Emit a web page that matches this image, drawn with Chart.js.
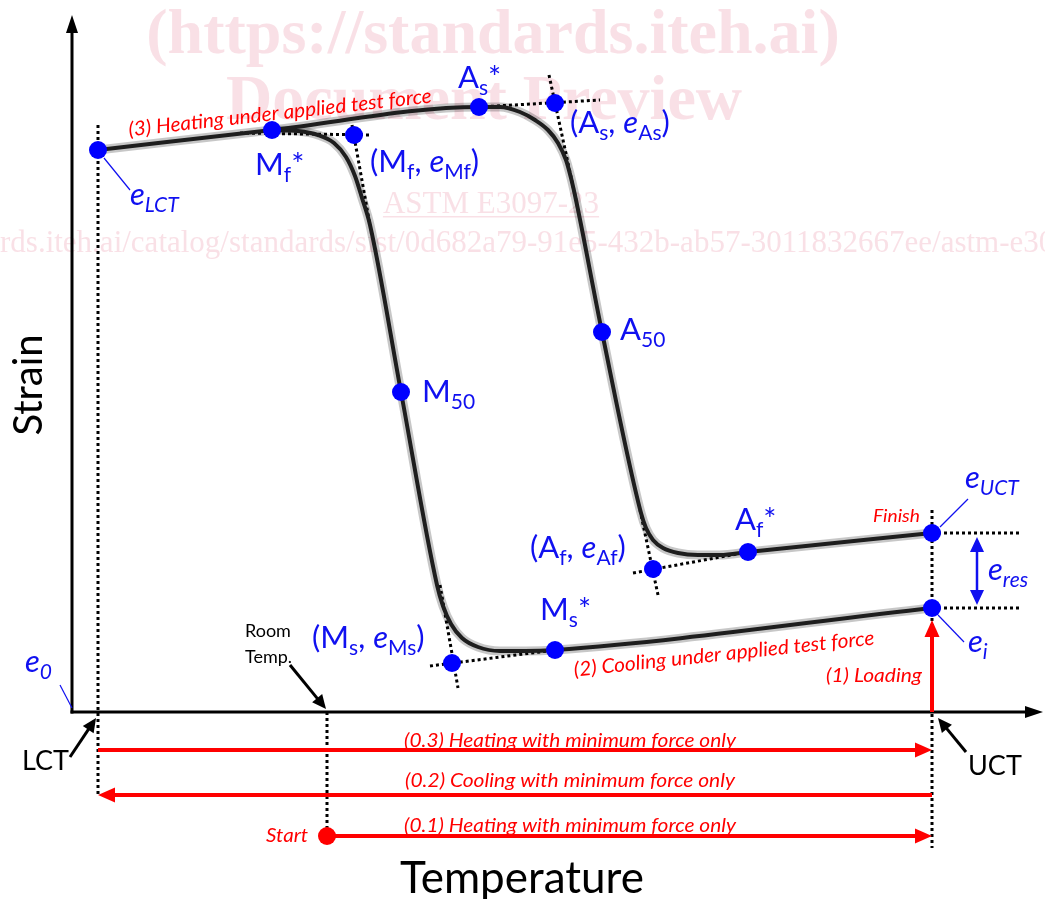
<!DOCTYPE html>
<html>
<head>
<meta charset="utf-8">
<script src="https://cdn.jsdelivr.net/npm/chart.js@4.4.0/dist/chart.umd.min.js"></script>
<style>
    html, body { margin: 0; padding: 0; background: #fff; overflow: hidden; }
    canvas { display: block; }
</style>
</head>
<body>
<canvas id="chart" width="1045" height="899"></canvas>
<script>
// Axis extents (arbitrary temperature / strain units)
const xMax = 971;
const yMax = 697;

// Heating under applied test force (LCT -> UCT)
const heatingX = [26, 200, 407, 428, 448, 463, 476, 486, 494, 499, 504, 530, 569, 574, 581, 591, 606, 626, 648, 676, 860];
const heatingY = [562, 582, 605, 605, 600, 592, 582, 569, 552, 534, 512, 380, 199, 184, 172, 164, 159, 157, 157, 160, 179];

// Cooling under applied test force (UCT -> LCT), listed by temperature
const coolingX = [200, 226, 246, 262, 274, 283, 290, 298, 329, 365, 371, 379, 390, 406, 428, 453, 483, 860];
const coolingY = [582, 581, 577, 569, 555, 536, 514, 487, 320, 127, 106, 88, 74, 65, 61, 61, 62, 104];

// Characteristic points
const pointNames = ['eLCT', 'Mf*', 'Mf', 'As*', 'As', 'A50', 'M50', 'Af', 'Af*', 'eUCT', 'ei', 'Ms', 'Ms*'];
const pointX = [26, 200, 282, 407, 483, 530, 329, 581, 676, 860, 860, 380, 483];
const pointY = [562, 582, 577, 605, 609, 380, 320, 143, 160, 179, 104, 49, 62];

// Start point (room temperature, minimum force)
const startX = [255];
const startY = [-124];

// Tangent / guide lines [x1, y1, x2, y2]
const guideLines = [
    [407, 605, 528, 612],
    [168, 579, 300, 577],
    [280, 587, 298, 487],
    [477, 637, 504, 512],
    [568, 202, 586, 117],
    [561, 139, 676, 160],
    [368, 127, 386, 24],
    [358, 46, 483, 62],
    [26, 587, 26, -83],
    [860, 202, 860, -136],
    [255, 0, 255, -124],
    [860, 179, 948, 179],
    [860, 104, 948, 104]
];

// Process arrows [x1, y1, x2, y2] (head at the end)
const redArrows = [
    [860, 0, 860, 92],
    [26, -38, 860, -38],
    [860, -83, 26, -83],
    [255, -124, 860, -124]
];
const blackArrows = [
    [-2, -45, 24, -6],
    [894, -40, 866, -6],
    [218, 47, 254, 3]
];
const leaderLines = [
    [32, 554, 58, 522],
    [-12, 27, 0, 4],
    [868, 185, 896, 213],
    [866, 97, 892, 70]
];
const eresArrow = [905, 175, 905, 107];

const FONT = 'Lato, "Open Sans", sans-serif';
const BLUE = '#1010f0';
const RED = '#ff0000';

function toXY(xs, ys) {
    return xs.map((x, i) => ({ x: x, y: ys[i] }));
}

// Labels (position in data units)
const blueLabels = [
    { x: 183, y: 537, parts: [{ t: 'M' }, { t: 'f', sub: true }, { t: '*' }] },
    { x: 298, y: 540, parts: [{ t: '(M' }, { t: 'f', sub: true }, { t: ', ' }, { t: 'e', it: true }, { t: 'Mf', sub: true }, { t: ')' }] },
    { x: 386, y: 624, parts: [{ t: 'A' }, { t: 's', sub: true }, { t: '*' }] },
    { x: 498, y: 579, parts: [{ t: '(A' }, { t: 's', sub: true }, { t: ', ' }, { t: 'e', it: true }, { t: 'As', sub: true }, { t: ')' }] },
    { x: 548, y: 372, parts: [{ t: 'A' }, { t: '50', sub: true }] },
    { x: 350, y: 310, parts: [{ t: 'M' }, { t: '50', sub: true }] },
    { x: 458, y: 154, parts: [{ t: '(A' }, { t: 'f', sub: true }, { t: ', ' }, { t: 'e', it: true }, { t: 'Af', sub: true }, { t: ')' }] },
    { x: 663, y: 182, parts: [{ t: 'A' }, { t: 'f', sub: true }, { t: '*' }] },
    { x: 240, y: 64, parts: [{ t: '(M' }, { t: 's', sub: true }, { t: ', ' }, { t: 'e', it: true }, { t: 'Ms', sub: true }, { t: ')' }] },
    { x: 468, y: 92, parts: [{ t: 'M' }, { t: 's', sub: true }, { t: '*' }] },
    { x: 58, y: 507, parts: [{ t: 'e', it: true }, { t: 'LCT', sub: true, it: true }] },
    { x: 893, y: 224, parts: [{ t: 'e', it: true }, { t: 'UCT', sub: true, it: true }] },
    { x: 916, y: 132, parts: [{ t: 'e', it: true }, { t: 'res', sub: true, it: true }] },
    { x: 896, y: 60, parts: [{ t: 'e', it: true }, { t: 'i', sub: true, it: true }] },
    { x: -47, y: 40, parts: [{ t: 'e', it: true }, { t: '0', sub: true, it: true }] }
];

// w = width the text should span in px
const redLabels = [
    { x: 208, y: 599, text: '(3) Heating under applied test force', align: 'center', angle: -6.4, size: 20, w: 305 },
    { x: 652, y: 58, text: '(2) Cooling under applied test force', align: 'center', angle: -6.1, size: 20, w: 302 },
    { x: 850, y: 30, text: '(1) Loading', align: 'right', angle: 0, size: 20, w: 96 },
    { x: 848, y: 190, text: 'Finish', align: 'right', angle: 0, size: 17, w: 47 },
    { x: 498, y: -35, text: '(0.3) Heating with minimum force only', align: 'center', angle: 0, size: 20, w: 332 },
    { x: 498, y: -75, text: '(0.2) Cooling with minimum force only', align: 'center', angle: 0, size: 20, w: 330 },
    { x: 498, y: -120, text: '(0.1) Heating with minimum force only', align: 'center', angle: 0, size: 20, w: 332 },
    { x: 236, y: -130, text: 'Start', align: 'right', angle: 0, size: 20, w: 42 }
];

const blackLabels = [
    { x: 173, y: 75, text: 'Room', size: 18 },
    { x: 173, y: 49, text: 'Temp.', size: 18 },
    { x: -50, y: -58, text: 'LCT', size: 27 },
    { x: 896, y: -63, text: 'UCT', size: 27 }
];

function drawRich(ctx, x, y, parts, size, color) {
    ctx.fillStyle = color;
    ctx.textAlign = 'left';
    ctx.textBaseline = 'alphabetic';
    let cx = x;
    parts.forEach(p => {
        const s = p.sub ? Math.round(size * 0.68) : size;
        ctx.font = (p.it ? 'italic ' : '') + s + 'px ' + FONT;
        ctx.fillText(p.t, cx, y + (p.sub ? size * 0.24 : 0));
        cx += ctx.measureText(p.t).width;
    });
}

function drawArrow(ctx, x1, y1, x2, y2, color, width, headLen, headW, both) {
    const ang = Math.atan2(y2 - y1, x2 - x1);
    ctx.strokeStyle = color;
    ctx.fillStyle = color;
    ctx.lineWidth = width;
    ctx.beginPath();
    ctx.moveTo(x1 + (both ? Math.cos(ang) * headLen * 0.8 : 0), y1 + (both ? Math.sin(ang) * headLen * 0.8 : 0));
    ctx.lineTo(x2 - Math.cos(ang) * headLen * 0.8, y2 - Math.sin(ang) * headLen * 0.8);
    ctx.stroke();
    const head = (hx, hy, a) => {
        ctx.beginPath();
        ctx.moveTo(hx, hy);
        ctx.lineTo(hx - headLen * Math.cos(a) + headW / 2 * Math.sin(a), hy - headLen * Math.sin(a) - headW / 2 * Math.cos(a));
        ctx.lineTo(hx - headLen * Math.cos(a) - headW / 2 * Math.sin(a), hy - headLen * Math.sin(a) + headW / 2 * Math.cos(a));
        ctx.closePath();
        ctx.fill();
    };
    head(x2, y2, ang);
    if (both) head(x1, y1, ang + Math.PI);
}

const diagramPlugin = {
    id: 'diagram',
    beforeDatasetsDraw(chart) {
        const ctx = chart.ctx;
        ctx.save();
        // watermark
        ctx.fillStyle = 'rgba(240, 180, 196, 0.42)';
        ctx.textAlign = 'center';
        ctx.textBaseline = 'alphabetic';
        ctx.font = 'bold 64px "Liberation Serif", "DejaVu Serif", serif';
        ctx.fillText('(https://standards.iteh.ai)', 493, 53);
        ctx.fillText('Document Preview', 484, 119);
        ctx.font = '31px "Liberation Serif", "DejaVu Serif", serif';
        ctx.fillText('ASTM E3097-23', 491, 213);
        const w = ctx.measureText('ASTM E3097-23').width;
        ctx.fillRect(491 - w / 2, 216, w, 1.5);
        ctx.font = '31px "Liberation Serif", "DejaVu Serif", serif';
        ctx.textAlign = 'left';
        const url = 'https://standards.iteh.ai/catalog/standards/sist/0d682a79-91e5-432b-ab57-3011832667ee/astm-e3097-23';
        const pre = ctx.measureText('https://standa').width;
        ctx.fillText(url, -pre, 252);

        // axes
        const xs = chart.scales.x, ys = chart.scales.y;
        const x0 = xs.getPixelForValue(0), y0 = ys.getPixelForValue(0);
        drawArrow(ctx, x0, y0 + 1.5, x0, ys.getPixelForValue(yMax), '#000', 3, 18, 12, false);
        drawArrow(ctx, x0 - 1.5, y0, xs.getPixelForValue(xMax), y0, '#000', 3, 18, 12, false);
        ctx.restore();
    },
    afterDatasetsDraw(chart) {
        const ctx = chart.ctx;
        const xs = chart.scales.x, ys = chart.scales.y;
        const px = v => xs.getPixelForValue(v);
        const py = v => ys.getPixelForValue(v);
        ctx.save();

        redArrows.forEach(a => drawArrow(ctx, px(a[0]), py(a[1]), px(a[2]), py(a[3]), RED, 4, 17, 15, false));
        blackArrows.forEach(a => drawArrow(ctx, px(a[0]), py(a[1]), px(a[2]), py(a[3]), '#000', 3, 14, 13, false));
        drawArrow(ctx, px(eresArrow[0]), py(eresArrow[1]), px(eresArrow[2]), py(eresArrow[3]), BLUE, 2.5, 15, 14, true);

        ctx.strokeStyle = BLUE;
        ctx.lineWidth = 1.2;
        leaderLines.forEach(l => {
            ctx.beginPath();
            ctx.moveTo(px(l[0]), py(l[1]));
            ctx.lineTo(px(l[2]), py(l[3]));
            ctx.stroke();
        });

        blueLabels.forEach(l => drawRich(ctx, px(l.x), py(l.y), l.parts, 31, BLUE));

        redLabels.forEach(l => {
            ctx.save();
            ctx.translate(px(l.x), py(l.y));
            ctx.rotate(l.angle * Math.PI / 180);
            ctx.fillStyle = RED;
            ctx.font = 'italic ' + l.size + 'px ' + FONT;
            const mw = ctx.measureText(l.text).width;
            const k = l.w / mw;
            ctx.scale(k, 1);
            ctx.textAlign = l.align;
            ctx.textBaseline = l.angle ? 'middle' : 'alphabetic';
            ctx.fillText(l.text, 0, 0);
            ctx.restore();
        });

        ctx.fillStyle = '#000';
        ctx.textAlign = 'left';
        ctx.textBaseline = 'alphabetic';
        blackLabels.forEach(l => {
            ctx.font = l.size + 'px ' + FONT;
            ctx.fillText(l.text, px(l.x), py(l.y));
        });

        // axis titles
        ctx.font = '44px ' + FONT;
        ctx.textAlign = 'center';
        ctx.fillText('Temperature', 522, 893);
        ctx.save();
        ctx.translate(42, 385);
        ctx.rotate(-Math.PI / 2);
        ctx.font = '40px ' + FONT;
        ctx.fillText('Strain', 0, 0);
        ctx.restore();

        ctx.restore();
    }
};

const datasets = [];
datasets.push({
    data: toXY(pointX, pointY),
    pointRadius: 9,
    pointBackgroundColor: '#0000ff',
    pointBorderWidth: 0,
    showLine: false,
    clip: false
});
datasets.push({
    data: toXY(startX, startY),
    pointRadius: 9,
    pointBackgroundColor: RED,
    pointBorderWidth: 0,
    showLine: false,
    clip: false
});
[[heatingX, heatingY], [coolingX, coolingY]].forEach(c => {
    datasets.push({
        data: toXY(c[0], c[1]),
        showLine: true,
        borderColor: '#1e1e1e',
        borderWidth: 4,
        pointRadius: 0,
        cubicInterpolationMode: 'monotone',
        clip: false
    });
});
guideLines.forEach(g => {
    datasets.push({
        data: [{ x: g[0], y: g[1] }, { x: g[2], y: g[3] }],
        showLine: true,
        borderColor: '#000',
        borderWidth: 3,
        borderDash: [3, 3],
        pointRadius: 0,
        clip: false
    });
});
[[heatingX, heatingY], [coolingX, coolingY]].forEach(c => {
    datasets.push({
        data: toXY(c[0], c[1]),
        showLine: true,
        borderColor: 'rgba(0,0,0,0.22)',
        borderWidth: 9,
        pointRadius: 0,
        cubicInterpolationMode: 'monotone',
        clip: false
    });
});

// the plot area covers the whole canvas; axes are drawn at x = 0 and y = 0
new Chart(document.getElementById('chart'), {
    type: 'scatter',
    data: { datasets: datasets },
    options: {
        responsive: false,
        animation: false,
        layout: { padding: 0, autoPadding: false },
        plugins: { legend: { display: false }, tooltip: { enabled: false } },
        scales: {
            x: { type: 'linear', min: -72, max: 973, display: false },
            y: { type: 'linear', min: -187, max: 712, display: false }
        }
    },
    plugins: [diagramPlugin]
});
</script>
</body>
</html>
